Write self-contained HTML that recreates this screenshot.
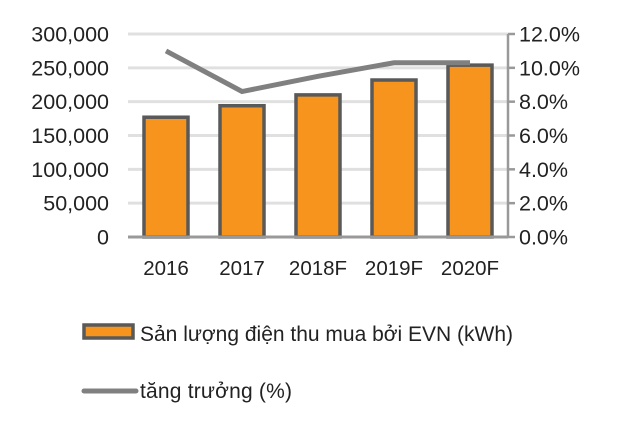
<!DOCTYPE html>
<html><head><meta charset="utf-8"><style>
body{margin:0;background:#fff;}
svg text{font-family:"Liberation Sans",sans-serif;fill:#222;}
</style></head><body>
<svg id="c" width="640" height="428" xmlns="http://www.w3.org/2000/svg"></svg>
<script>
const categories=["2016","2017","2018F","2019F","2020F"];
const outputValues=[177000,194000,210000,232000,254000];
const growthValues=[11.0,8.6,9.5,10.3,10.3];
const leftTicks=[0,50000,100000,150000,200000,250000,300000];
const rightTicks=[0,2,4,6,8,10,12];
const NS="http://www.w3.org/2000/svg";
const svg=document.getElementById('c');
const X0=128,X1=508,Y0=237,Y1=34;
const band=(X1-X0)/categories.length;
const xc=i=>X0+band*(i+0.5);
const yL=v=>Y0-(v/300000)*(Y0-Y1);
const yR=v=>Y0-(v/12)*(Y0-Y1);
function mk(t,a,txt){const e=document.createElementNS(NS,t);for(const k in a)e.setAttribute(k,a[k]);if(txt!=null)e.textContent=txt;svg.appendChild(e);return e;}
leftTicks.forEach(v=>{
  if(v>0){const g=mk('line',{x1:X0,x2:X1,y1:yL(v),y2:yL(v),stroke:'#e0e0e0','stroke-width':3});
  
  }
  const t=mk('text',{x:109,y:yL(v)+7.5,'text-anchor':'end','font-size':21.5},v.toLocaleString('en-US'));
  
  
});
rightTicks.forEach(v=>{
  const tk=mk('line',{x1:X1,x2:X1+7,y1:yR(v),y2:yR(v),stroke:'#999','stroke-width':2.5});
  
  
  const t=mk('text',{x:519,y:yR(v)+7.5,'font-size':21.5},v.toFixed(1)+'%');
  
  
});
const ra=mk('line',{x1:X1,x2:X1,y1:Y1,y2:Y0,stroke:'#999','stroke-width':2.5});


outputValues.forEach((v,i)=>{
  const b=mk('rect',{x:xc(i)-22,y:yL(v),width:44,height:Y0-yL(v),fill:'#f7941d',stroke:'#595959','stroke-width':3.5});
  
  
  const t=mk('text',{x:xc(i),y:275,'text-anchor':'middle','font-size':20.5},categories[i]);
  
  
});
const base=mk('line',{x1:X0,x2:X1,y1:Y0,y2:Y0,stroke:'#999','stroke-width':3});


const ln=mk('polyline',{points:growthValues.map((v,i)=>xc(i)+','+yR(v)).join(' '),fill:'none',stroke:'#808080','stroke-width':5});


const s1=mk('rect',{x:84,y:325,width:49,height:13,fill:'#f7941d',stroke:'#595959','stroke-width':3.5});


const l1=mk('text',{x:140,y:341,'font-size':21,textLength:373,lengthAdjust:'spacing'},'Sản lượng điện thu mua bởi EVN (kWh)');


const s2=mk('line',{x1:84,x2:136,y1:391,y2:391,stroke:'#808080','stroke-width':5,'stroke-linecap':'round'});


const l2=mk('text',{x:140,y:398,'font-size':21,textLength:152,lengthAdjust:'spacing'},'tăng trưởng (%)');


</script>
</body></html>
